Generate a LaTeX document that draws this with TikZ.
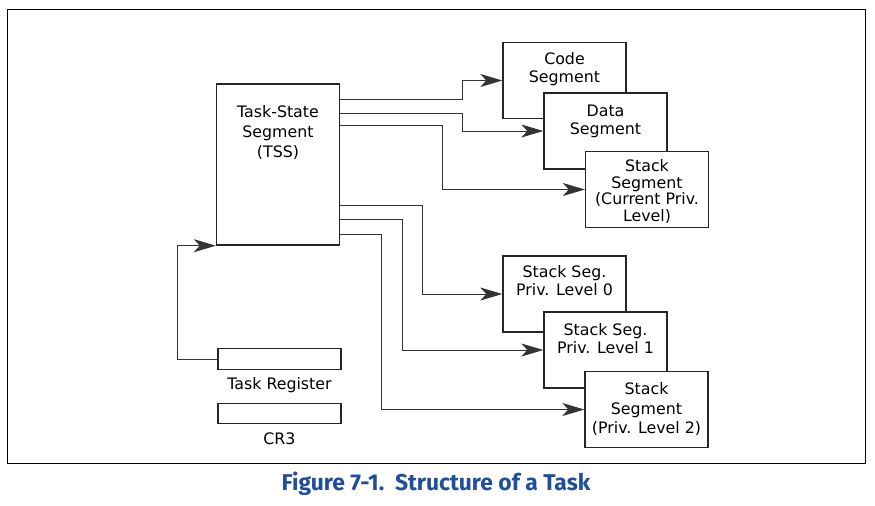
\documentclass[tikz,border=0pt]{standalone}
\usepackage{fontspec}
\newfontfamily\segfont{DejaVu Sans}
\newfontfamily\capfont{Fira Sans}
\usetikzlibrary{positioning,arrows.meta}
\definecolor{capblue}{RGB}{31,78,155}

\begin{document}
\begin{tikzpicture}[x=0.02cm,y=-0.02cm]
    \tikzstyle{every path}=[line width=0.5pt]

    \tikzstyle{segbox}=[draw=black!85,fill=white,line width=0.8pt,
    minimum width=2.46cm,minimum height=1.52cm,inner sep=0pt]
    \tikzstyle{segtext}=[align=center,inner sep=0pt,
    font=\segfont\fontsize{9}{10.2}\selectfont]
    \tikzstyle{regbox}=[draw=black!85,line width=0.8pt,
    minimum width=2.46cm,minimum height=0.41cm,inner sep=0pt]
    \tikzstyle{ptr}=[draw=black!80,
    -{Stealth[length=4.4mm,width=2.6mm,inset=1.2mm]}]

    \useasboundingbox (0,0) rectangle (875,505);
    \draw [line width=0.45pt] (7,9) rectangle (865,463);

    %% Task-State Segment and registers
    \node [segbox,minimum height=3.22cm] (tss) at (278,164.5) {};
    \node [segtext,font=\segfont\fontsize{9}{11.3}\selectfont,
    below=0.44cm of tss.north] (tsstext) {Task-State\\Segment\\(TSS)};
    \node [regbox] (taskreg) at (279.5,359) {};
    \node [segtext,below=0.15cm of taskreg] (taskregtext) {Task Register};
    \node [regbox] (cr) at (279.5,413.5) {};
    \node [segtext,below=0.15cm of cr] (crtext) {CR3};

    %% Segments of the task
    \node [segbox] (code) at (564.5,80.5) {};
    \node [segtext,below=0.2cm of code.north] (codetext) {Code\\Segment};
    \node [segbox] (data) at (605.5,131) {};
    \node [segtext,below=0.24cm of data.north] (datatext) {Data\\Segment};
    \node [segbox] (stack) at (647,189.5) {};
    \node [segtext,font=\segfont\fontsize{9}{9.4}\selectfont,
    below=0.17cm of stack.north] (stacktext)
    {Stack\\Segment\\(Current Priv.\\Level)};

    %% Stacks for privilege levels 0, 1 and 2
    \node [segbox] (stackzero) at (564.5,294) {};
    \node [segtext,below=0.19cm of stackzero.north] (stackzerotext)
    {Stack Seg.\\Priv. Level 0};
    \node [segbox] (stackone) at (605.5,350) {};
    \node [segtext,below=0.24cm of stackone.north] (stackonetext)
    {Stack Seg.\\Priv. Level 1};
    \node [segbox] (stacktwo) at (646.5,409.5) {};
    \node [segtext,font=\segfont\fontsize{9}{11.3}\selectfont,
    below=0.22cm of stacktwo.north] (stacktwotext)
    {Stack\\Segment\\(Priv. Level 2)};

    %% Pointers held in the TSS
    \draw [ptr] (tss.east |- 0,99) -- (462,99) |- (code.west);
    \draw [ptr] (tss.east |- 0,113) -- (462,113) |- (data.west);
    \draw [ptr] (tss.east |- 0,125) -- (442,125) |- (stack.west);
    \draw [ptr] (tss.east |- 0,205) -- (422,205) |- (stackzero.west);
    \draw [ptr] (tss.east |- 0,219) -- (402,219) |- (stackone.west);
    \draw [ptr] (tss.east |- 0,234) -- (381,234) |- (stacktwo.west);
    \draw [ptr] (taskreg.west) -- (177,359) |- (tss.south west);

    \node [font=\capfont\bfseries\fontsize{13}{15}\selectfont,text=capblue]
    (caption) at (436,484) {Figure 7-1.\ \ Structure of a Task};
\end{tikzpicture}
\end{document}
